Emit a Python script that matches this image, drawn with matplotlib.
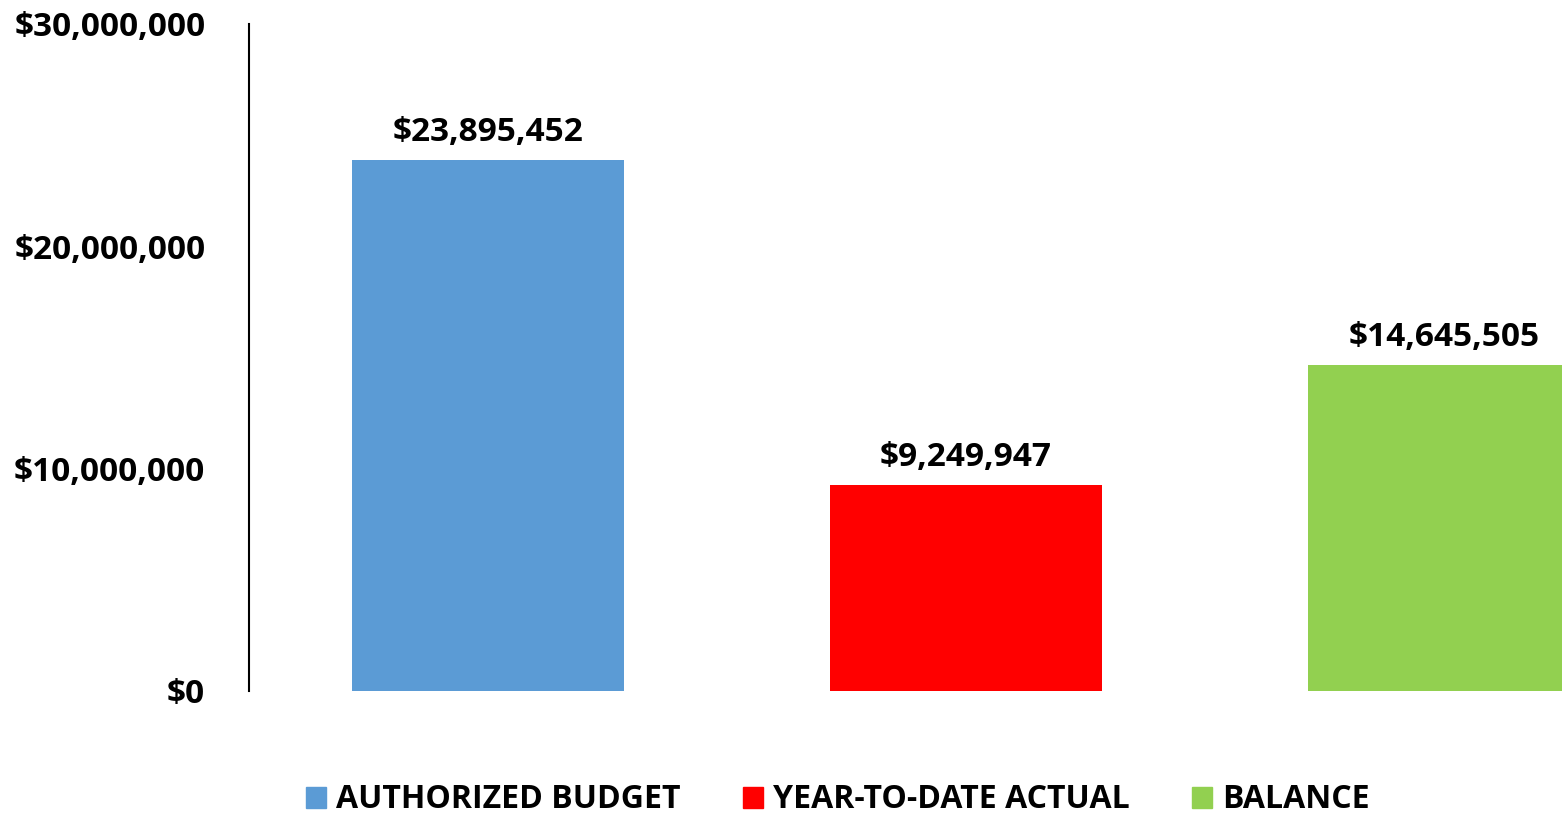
import matplotlib
matplotlib.use("Agg")
import matplotlib.pyplot as plt
from matplotlib.patches import Patch
from matplotlib.ticker import FuncFormatter

categories = ["AUTHORIZED BUDGET", "YEAR-TO-DATE ACTUAL", "BALANCE"]
values = [23895452, 9249947, 14645505]
colors = ["#5B9BD5", "#FF0000", "#92D050"]
yticks = [0, 10000000, 20000000, 30000000]

plt.rcParams['font.family'] = ['Open Sans', 'DejaVu Sans']
plt.rcParams['font.weight'] = 'bold'

W, H = 1562, 819
fig = plt.figure(figsize=(W / 100, H / 100), dpi=100)
# axes runs past the right edge, like the original where the last bar is cut
ax = fig.add_axes([249 / W, (H - 691) / H, 1434 / W, 667 / H])

x = list(range(len(categories)))
bars = ax.bar(x, values, width=0.571, color=colors)

ax.set_xlim(-0.5, 2.5)
ax.set_ylim(0, 30000000)
ax.set_yticks(yticks)
ax.yaxis.set_major_formatter(FuncFormatter(lambda v, p: "${:,.0f}".format(v)))
ax.tick_params(axis='y', length=0, pad=31.5, labelsize=24)
ax.tick_params(axis='x', bottom=False, labelbottom=False)

for s in ['top', 'right', 'bottom']:
    ax.spines[s].set_visible(False)
ax.spines['left'].set_linewidth(1.5)

for b, v in zip(bars, values):
    ax.annotate("${:,.0f}".format(v), (b.get_x() + b.get_width() / 2, v),
                xytext=(0, 8), textcoords='offset points',
                ha='center', va='bottom', fontsize=24, fontweight='bold')

handles = [Patch(color=c, label=l) for c, l in zip(colors, categories)]
fig.legend(handles=handles, ncol=3, loc='center',
           bbox_to_anchor=(838 / W, 19 / H), frameon=False,
           fontsize=23, handlelength=0.62, handleheight=0.62,
           handletextpad=0.32, columnspacing=1.95, borderpad=0, borderaxespad=0)

fig.savefig("out.png", dpi=100)
